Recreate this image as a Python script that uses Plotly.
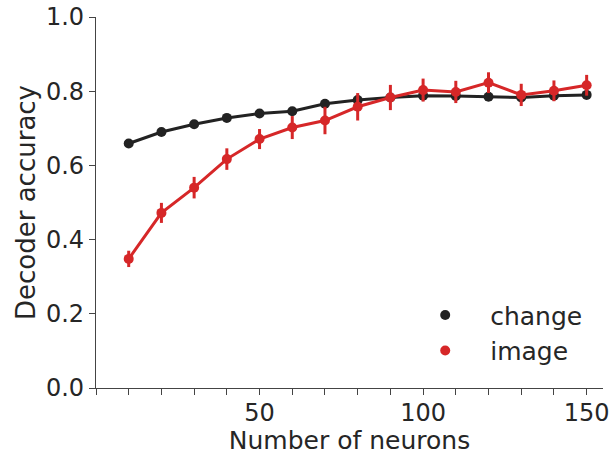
import plotly.graph_objects as go

neurons = [10, 20, 30, 40, 50, 60, 70, 80, 90, 100, 110, 120, 130, 140, 150]
change_acc = [0.659, 0.690, 0.711, 0.728, 0.740, 0.746, 0.766, 0.776, 0.783, 0.788, 0.787, 0.785, 0.783, 0.788, 0.790]
change_err = [0.005, 0.005, 0.005, 0.005, 0.005, 0.005, 0.006, 0.006, 0.006, 0.006, 0.006, 0.006, 0.006, 0.006, 0.006]
image_acc = [0.348, 0.472, 0.540, 0.617, 0.671, 0.702, 0.721, 0.758, 0.783, 0.803, 0.798, 0.823, 0.790, 0.801, 0.816]
image_err = [0.022, 0.027, 0.029, 0.029, 0.027, 0.031, 0.037, 0.037, 0.034, 0.031, 0.030, 0.028, 0.030, 0.028, 0.028]

BLACK = "#222222"
RED = "#d62728"
TXT = "#262626"
FONT = "DejaVu Sans"

fig = go.Figure()
for name, y, err, col in [("change", change_acc, change_err, BLACK), ("image", image_acc, image_err, RED)]:
    fig.add_trace(go.Scatter(
        x=neurons, y=y, mode="lines+markers", name=name, showlegend=False,
        line=dict(color=col, width=3),
        marker=dict(color=col, size=10),
        error_y=dict(type="data", array=err, color=col, thickness=3, width=0),
    ))
for name, col in [("change", BLACK), ("image", RED)]:
    fig.add_trace(go.Scatter(
        x=[None], y=[None], mode="markers", name=name,
        marker=dict(color=col, size=10),
    ))

fig.update_layout(
    width=611, height=455,
    margin=dict(l=96, r=8, t=17, b=67),
    plot_bgcolor="white", paper_bgcolor="white",
    font=dict(family=FONT, size=25, color=TXT),
    showlegend=True,
    legend=dict(x=0.6, y=0.149, xanchor="left", yanchor="middle",
                bgcolor="rgba(0,0,0,0)", font=dict(size=25, color=TXT),
                itemwidth=80, tracegroupgap=0),
    xaxis=dict(
        range=[0, 155], showgrid=False, zeroline=False, automargin=False,
        showline=True, linecolor="#444444", linewidth=1.3,
        tickmode="array", tickvals=[0, 10, 20, 30, 40, 50, 60, 70, 80, 90, 100, 110, 120, 130, 140, 150],
        ticktext=["", "", "", "", "", "50", "", "", "", "", "100", "", "", "", "", "150"],
        ticks="outside", ticklen=6, tickcolor="#444444", tickwidth=1.3,
        ticklabelstandoff=-3,
        tickfont=dict(size=24, color=TXT),
        title=dict(text="Number of neurons", font=dict(size=25, color=TXT)),
    ),
    yaxis=dict(
        range=[0, 1.0], showgrid=False, zeroline=False, automargin=False,
        showline=True, linecolor="#444444", linewidth=1.3,
        tickvals=[0, 0.2, 0.4, 0.6, 0.8, 1.0], tickformat=".1f",
        ticks="outside", ticklen=6, tickcolor="#444444", tickwidth=1.3,
        tickfont=dict(size=24, color=TXT),
        title=dict(text="Decoder accuracy", font=dict(size=26, color=TXT), standoff=2),
    ),
)

fig.write_html("out.html")
